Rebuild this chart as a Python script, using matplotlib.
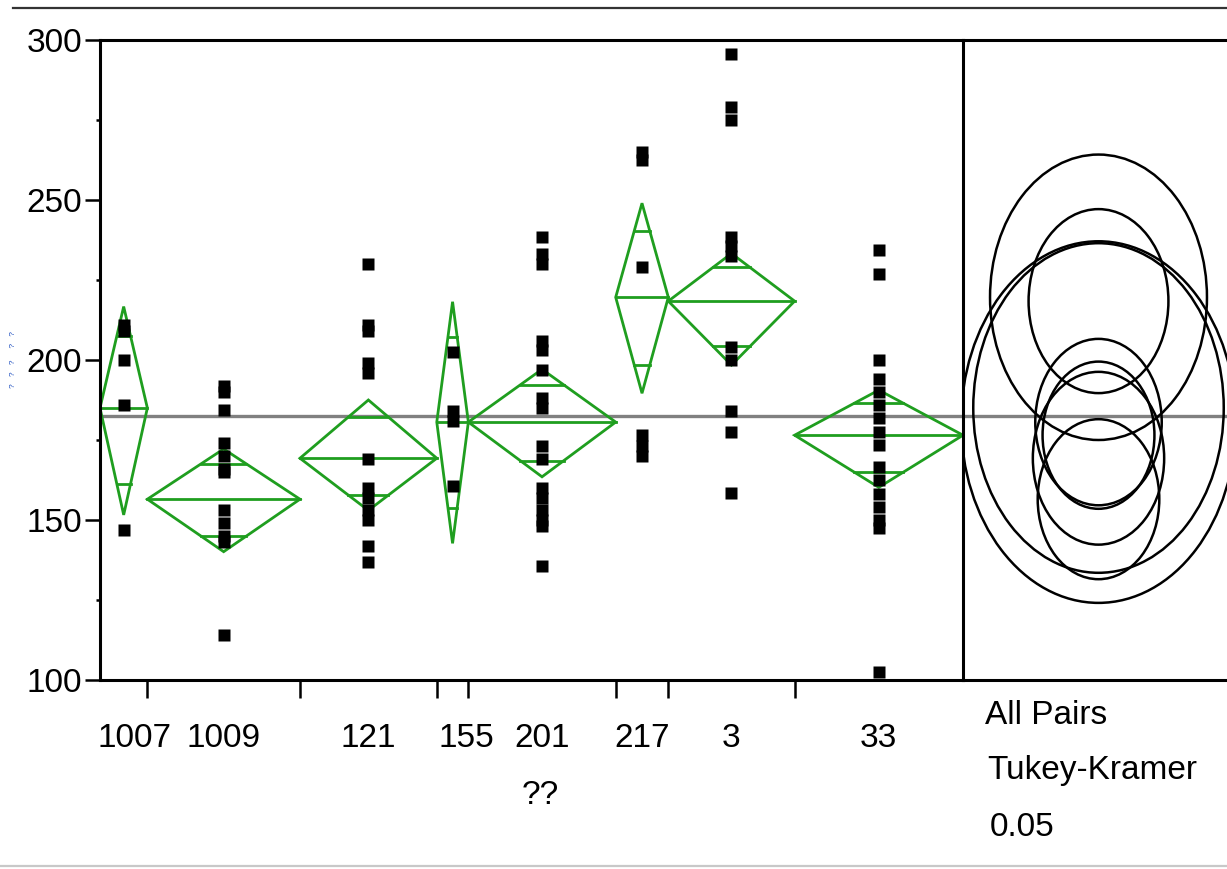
import numpy as np
import matplotlib
matplotlib.use("Agg")
import matplotlib.pyplot as plt
from matplotlib import font_manager
from matplotlib.patches import Polygon, Ellipse

# groups, ordered as on the x axis; group width follows the sample size
groups = ["1007", "1009", "121", "155", "201", "217", "3", "33"]
counts = [9, 29, 26, 6, 28, 10, 24, 32]

obs = {
    "1007": [211, 209, 200, 186, 147],
    "1009": [192, 190, 184.5, 174, 170, 166, 165, 153, 149, 145, 143, 114],
    "121": [230, 211, 209, 199, 196, 169, 160, 157, 153, 150, 142, 137],
    "155": [202.5, 184, 181, 160.5],
    "201": [238.5, 233, 230, 206, 203, 197, 188, 185, 173, 169, 160, 157, 153, 150, 148, 135.5],
    "217": [265, 262.5, 229, 176.5, 173, 170],
    "3": [295.5, 279, 275, 238.5, 235.5, 232.5, 204, 200, 184, 177.5, 158.5],
    "33": [234.5, 227, 200, 194, 190, 186, 182, 177.5, 173.5, 166.5, 162.5, 158, 154, 150, 147.5, 102.5],
}

# means diamonds: group mean and 95% interval ends
means = [185.0, 156.5, 169.3, 180.6, 180.6, 219.6, 218.4, 176.5]
ci_lo = [151.6, 140.1, 153.0, 142.7, 163.5, 189.6, 198.4, 160.2]
ci_hi = [216.7, 172.2, 187.5, 218.2, 197.1, 249.0, 233.3, 190.6]
grand_mean = 182.4

# Tukey-Kramer comparison circle radii (y units)
radii = [51.5, 25.0, 27.0, 56.5, 26.0, 44.6, 28.75, 23.0]

W, H = 1227, 869
names = {f.name for f in font_manager.fontManager.ttflist}
font = "Liberation Sans Narrow" if "Liberation Sans Narrow" in names else "Liberation Sans"
plt.rcParams["font.family"] = [font, "DejaVu Sans"]

green = "#1f9e1f"
fs = 24


def box(x0, y0, x1, y1):
    return [x0 / W, 1 - y1 / H, (x1 - x0) / W, (y1 - y0) / H]


fig = plt.figure(figsize=(W / 100, H / 100), dpi=100)
ax = fig.add_axes(box(100, 40, 963, 680))
axc = fig.add_axes(box(963, 40, 1227, 680))

edges = np.concatenate([[0], np.cumsum(counts)])
centers = (edges[:-1] + edges[1:]) / 2
ax.set_xlim(0, edges[-1])
ax.set_ylim(100, 300)

ax.axhline(grand_mean, color="#808080", lw=2.4, zorder=1)
k = 1 / np.sqrt(2)
for i, g in enumerate(groups):
    x0, x1, xc = edges[i], edges[i + 1], centers[i]
    m, lo, hi = means[i], ci_lo[i], ci_hi[i]
    ax.add_patch(Polygon([(x0, m), (xc, hi), (x1, m), (xc, lo)], closed=True,
                         fill=False, edgecolor=green, lw=2.0, zorder=2))
    ax.plot([x0, x1], [m, m], color=green, lw=2.0, zorder=2)
    hw = (x1 - x0) / 2 * (1 - k)
    for yy in (m + (hi - m) * k, m - (m - lo) * k):
        ax.plot([xc - hw, xc + hw], [yy, yy], color=green, lw=2.0, zorder=2)
    ax.plot([xc] * len(obs[g]), obs[g], "s", color="black", ms=9, mec="none", zorder=3)

ax.set_yticks([100, 150, 200, 250, 300])
ax.set_yticks([125, 175, 225, 275], minor=True)
ax.tick_params(axis="y", which="major", length=11, width=1.8, labelsize=fs, pad=2)
ax.tick_params(axis="y", which="minor", length=3, width=1.8)

# x ticks at the group boundaries, labels near the group centres
ax.set_xticks(edges[1:-1])
ax.set_xticklabels([])
ax.tick_params(axis="x", which="major", length=13, width=1.8)
shift = {"1007": 2.1, "155": 2.6}
lab_pos = [centers[i] + shift.get(g, 0) for i, g in enumerate(groups)]
ax.set_xticks(lab_pos, minor=True)
ax.set_xticklabels(groups, minor=True)
ax.tick_params(axis="x", which="minor", length=0, labelsize=fs, pad=31)

for s in ("left", "top", "bottom"):
    ax.spines[s].set_linewidth(2.2)
ax.spines["right"].set_visible(False)

# comparison circles panel
axc.set_ylim(100, 300)
cw = 264 / (3.2 * 0.76)
axc.set_xlim(0, cw)
cx = (1098.5 - 963) / 264 * cw
axc.axhline(grand_mean, color="#808080", lw=2.4, zorder=1)
for m, r in zip(means, radii):
    axc.add_patch(Ellipse((cx, m), 2 * r, 2 * r, fill=False, edgecolor="black", lw=1.8, zorder=2))
axc.set_xticks([])
axc.set_yticks([])
for s in ("left", "top", "bottom"):
    axc.spines[s].set_linewidth(2.2)
axc.spines["right"].set_visible(False)

# tiny, unreadable y axis title as in the source screenshot
fig.text(14 / W, 1 - 360 / H, "?   ?   ?     ?   ?", fontsize=6, color="#2050c0",
         rotation=90, ha="center", va="center")
fig.text(540 / W, 1 - 795 / H, "??", fontsize=fs, ha="center", va="center")
fig.text(985 / W, 1 - 715 / H, "All Pairs", fontsize=fs, ha="left", va="center")
fig.text(987 / W, 1 - 770 / H, "Tukey-Kramer", fontsize=fs, ha="left", va="center")
fig.text(990 / W, 1 - 828 / H, "0.05", fontsize=fs, ha="left", va="center")

fig.add_artist(plt.Line2D([13 / W, 1], [1 - 8 / H, 1 - 8 / H], color="#333333", lw=1.6))
fig.add_artist(plt.Line2D([0, 1], [1 - 866 / H, 1 - 866 / H], color="#c8c8c8", lw=1.6))

fig.savefig("out.png", dpi=100)
